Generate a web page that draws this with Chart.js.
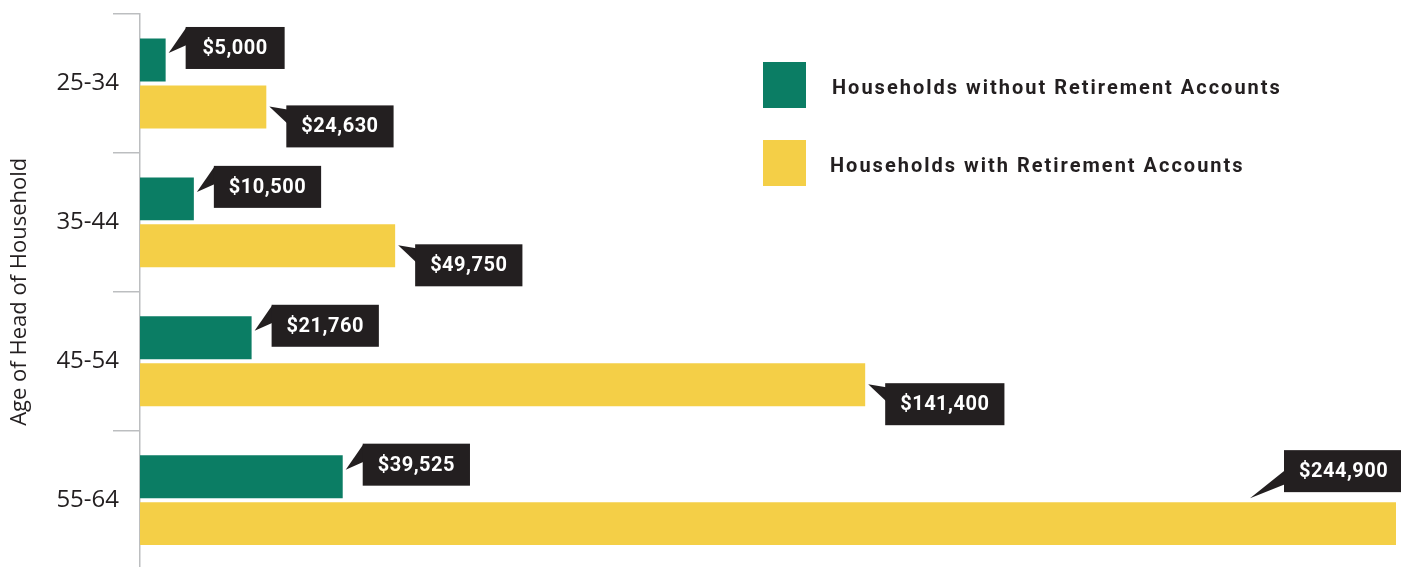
<!DOCTYPE html>
<html>
<head>
<meta charset="utf-8">
<script src="https://cdn.jsdelivr.net/npm/chart.js@4"></script>
<style>
  html, body { margin: 0; padding: 0; background: #fff; overflow: hidden; }
  canvas { display: block; }
</style>
</head>
<body>
<canvas id="savingsChart" width="1401" height="578"></canvas>
<script>
  const ageGroups = ['25-34', '35-44', '45-54', '55-64'];
  const withoutRetirement = [5000, 10500, 21760, 39525];
  const withRetirement = [24630, 49750, 141400, 244900];
  const seriesLabels = ['Households without Retirement Accounts', 'Households with Retirement Accounts'];
  const axisTitle = 'Age of Head of Household';

  const GREEN = '#0b7d64';
  const YELLOW = '#f4cf47';
  const INK = '#231f20';
  const BOX_H = 42;

  // dark value boxes with a little pointer at the bar end
  const calloutPlugin = {
    id: 'callouts',
    afterDatasetsDraw(chart) {
      const ctx = chart.ctx;
      const area = chart.chartArea;
      ctx.save();
      ctx.font = 'bold 20px Roboto';
      ctx.letterSpacing = '0.5px';
      ctx.textAlign = 'center';
      ctx.textBaseline = 'middle';
      chart.data.datasets.forEach((ds, di) => {
        chart.getDatasetMeta(di).data.forEach((bar, i) => {
          const text = '$' + ds.data[i].toLocaleString('en-US');
          const w = Math.max(99, ctx.measureText(text).width + 30);
          const top = bar.y - bar.height / 2;
          const bottom = bar.y + bar.height / 2;
          const end = bar.x;
          let bx, by, tri;
          if (end + 20 + w > area.right) {
            // no room on the right: sit above the bar, pointing down-left
            bx = end - 112;
            by = top - 52;
            tri = [[end - 146, top - 4], [bx + 1, by + 20], [bx + 1, by + 34]];
          } else if (di === 0) {
            bx = end + 20;
            by = bar.y - 33;
            tri = [[end + 3, by + 26], [bx + 1, by], [bx + 1, by + 18]];
          } else {
            bx = end + 20;
            by = bottom - 23;
            tri = [[end + 3, by + 1], [bx + 1, by + 4], [bx + 1, by + 18]];
          }
          ctx.fillStyle = INK;
          ctx.beginPath();
          ctx.moveTo(tri[0][0], tri[0][1]);
          ctx.lineTo(tri[1][0], tri[1][1]);
          ctx.lineTo(tri[2][0], tri[2][1]);
          ctx.closePath();
          ctx.fill();
          ctx.fillRect(bx, by, w, BOX_H);
          ctx.fillStyle = '#fff';
          ctx.fillText(text, bx + w / 2, by + BOX_H / 2 + 1);
        });
      });
      ctx.restore();
    }
  };

  const legendPlugin = {
    id: 'squareLegend',
    afterDraw(chart) {
      const ctx = chart.ctx;
      ctx.save();
      ctx.font = 'bold 20px Roboto';
      ctx.letterSpacing = '2px';
      ctx.textAlign = 'left';
      ctx.textBaseline = 'middle';
      chart.data.datasets.forEach((ds, di) => {
        const y = 62 + di * 78;
        ctx.fillStyle = ds.backgroundColor;
        ctx.fillRect(763, y, 43, 46);
        ctx.fillStyle = INK;
        ctx.fillText(ds.label, 832 - di * 2, y + 27);
      });
      ctx.restore();
    }
  };

  new Chart(document.getElementById('savingsChart'), {
    type: 'bar',
    data: {
      labels: ageGroups,
      datasets: [
        { label: seriesLabels[0], data: withoutRetirement, backgroundColor: GREEN },
        { label: seriesLabels[1], data: withRetirement, backgroundColor: YELLOW }
      ]
    },
    options: {
      indexAxis: 'y',
      responsive: false,
      animation: false,
      categoryPercentage: 0.676,
      barPercentage: 0.915,
      layout: { padding: { top: 14, right: 5, bottom: 0, left: 0 } },
      scales: {
        x: { display: false, min: 0, max: 244900 },
        y: {
          offset: true,
          afterFit: scale => { scale.width = 140; },
          grid: {
            offset: true,
            drawOnChartArea: false,
            tickLength: 27,
            color: '#bcbec0',
            lineWidth: 1.5
          },
          border: { color: '#bcbec0', width: 1.5 },
          ticks: {
            padding: -6,
            color: INK,
            font: { family: 'Open Sans', size: 24 }
          },
          title: {
            display: true,
            text: axisTitle,
            color: INK,
            padding: { top: 7, bottom: 0 },
            font: { family: 'Open Sans', size: 22 }
          }
        }
      },
      plugins: {
        legend: { display: false },
        tooltip: { enabled: false }
      }
    },
    plugins: [calloutPlugin, legendPlugin]
  });
</script>
</body>
</html>
